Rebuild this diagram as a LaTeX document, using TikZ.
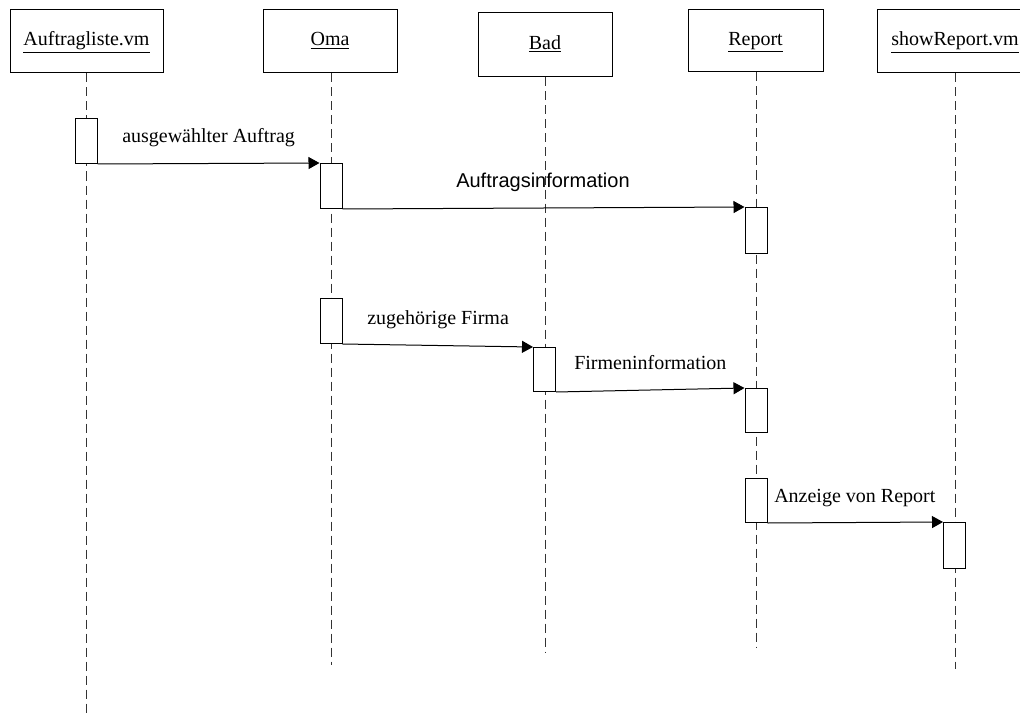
\documentclass[tikz,border=0pt]{standalone}
\usepackage{fontspec}
\setmainfont{Liberation Serif}
\newfontfamily\arialfont{Liberation Sans}
\usetikzlibrary{arrows.meta}

\begin{document}
\begin{tikzpicture}[x=0.75pt,y=-0.75pt,
  font=\fontsize{15}{18}\selectfont,
  header/.style={draw, line width=0.75pt, inner sep=0pt,
    text height=10.5pt, text depth=3.75pt},
  lifeline/.style={draw=black!80, line width=0.75pt, dash pattern=on 6.75pt off 3.75pt},
  activation/.style={draw, fill=white, line width=0.75pt, inner sep=0pt,
    minimum width=22*0.75pt, anchor=north},
  msg/.style={draw, line width=0.75pt, -{Triangle[length=8.25pt,width=9pt]}},
  msglabel/.style={anchor=base west, inner sep=0pt}]

\useasboundingbox (0,0) rectangle (1020,713);
\clip (0,0) rectangle (1020,713);

% object heads
\node[header, minimum width=153*0.75pt, minimum height=63*0.75pt] (auftragliste) at (86.5,41.5) {\underline{Auftragliste.vm}};
\node[header, minimum width=134*0.75pt, minimum height=63*0.75pt] (oma) at (330,41.5) {\underline{Oma}};
\node[header, minimum width=134*0.75pt, minimum height=64*0.75pt] (bad) at (545,45) {\underline{Bad}};
\node[header, minimum width=135*0.75pt, minimum height=62*0.75pt] (report) at (755.5,41) {\underline{Report}};
\node[header, minimum width=156*0.75pt, minimum height=63*0.75pt] (showreport) at (955,41.5) {\underline{showReport.vm}};

% lifeline ends
\coordinate (endA) at (86,713);
\coordinate (endO) at (331,665);
\coordinate (endB) at (545,652);
\coordinate (endR) at (756,648);
\coordinate (endS) at (955,669);

% lifelines
\draw[lifeline] (auftragliste.south -| endA) -- (endA);
\draw[lifeline] (oma.south -| endO) -- (endO);
\draw[lifeline] (bad.south -| endB) -- (endB);
\draw[lifeline] (report.south -| endR) -- (endR);
\draw[lifeline] (showreport.south -| endS) -- (endS);

% activation bars
\node[activation, minimum height=45*0.75pt] (a1) at (86,118) {};
\node[activation, minimum height=45*0.75pt] (a2) at (331,163) {};
\node[activation, minimum height=46*0.75pt] (a3) at (756,207) {};
\node[activation, minimum height=45*0.75pt] (a4) at (331,298) {};
\node[activation, minimum height=44*0.75pt] (a5) at (544.5,347) {};
\node[activation, minimum height=44*0.75pt] (a6) at (756,388) {};
\node[activation, minimum height=44*0.75pt] (a7) at (756,478) {};
\node[activation, minimum height=46*0.75pt] (a8) at (954.5,522) {};

% messages
\draw[msg] (a1.south east) -- (a2.north west);
\draw[msg] (a2.south east) -- (a3.north west);
\draw[msg] (a4.south east) -- (a5.north west);
\draw[msg] (a5.south east) -- (a6.north west);
\draw[msg] (a7.south east) -- (a8.north west);

% message labels
\node[msglabel] (l1) at (122,143) {ausgewählter Auftrag};
\node[msglabel] (l2) at (456,187) {\arialfont Auftragsinformation};
\node[msglabel] (l3) at (367,324) {zugehörige Firma};
\node[msglabel] (l4) at (574,369) {Firmeninformation};
\node[msglabel] (l5) at (774,502) {Anzeige von Report};
\end{tikzpicture}
\end{document}
